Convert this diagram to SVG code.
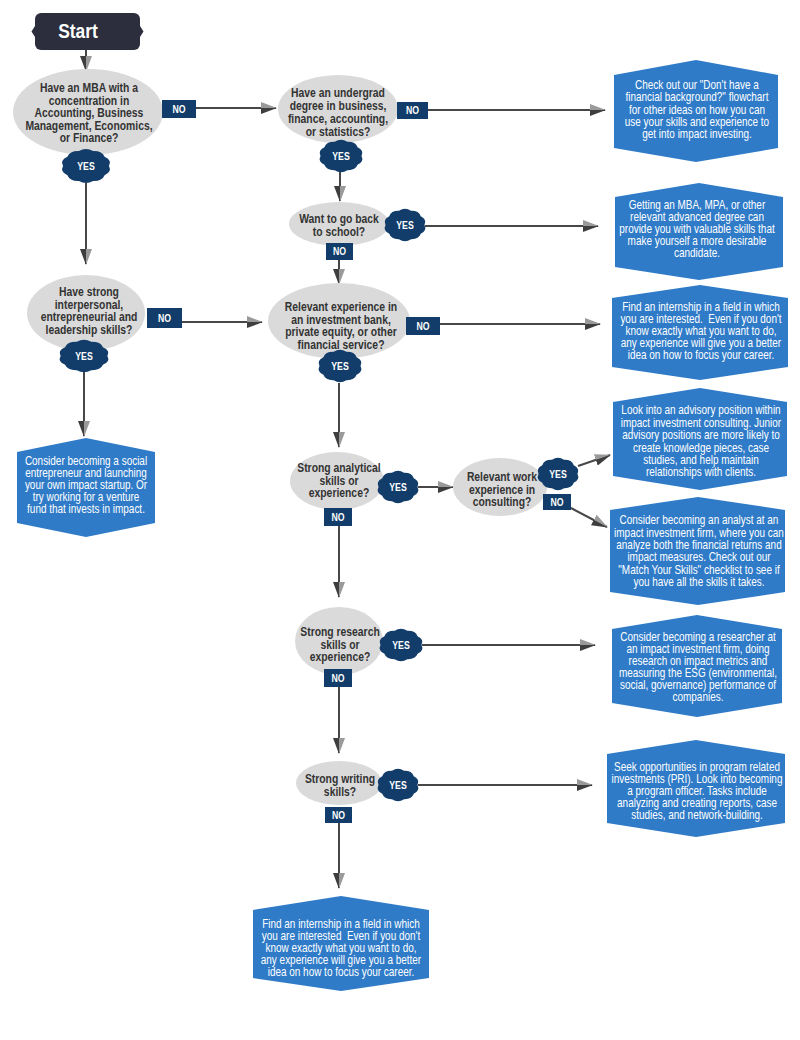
<svg xmlns="http://www.w3.org/2000/svg" xmlns:xlink="http://www.w3.org/1999/xlink" width="800" height="1040" viewBox="0 0 800 1040">
<style>
.q{fill:#dadada}
.qt{font-family:"Liberation Sans",Arial,sans-serif;font-weight:bold;font-size:12.5px;fill:#333;text-anchor:middle}
.h{fill:#2f7bc8}
.ht{font-family:"Liberation Sans",Arial,sans-serif;font-size:12px;fill:#fff;text-anchor:middle}
.nb{fill:#123d6a}
.yb{fill:#123d6a}
.bt{font-family:"Liberation Sans",Arial,sans-serif;font-weight:bold;font-size:10.5px;fill:#fff;text-anchor:middle}
.st{fill:#2c2e3d}
.stt{font-family:"Liberation Sans",Arial,sans-serif;font-weight:bold;font-size:21px;fill:#fff;text-anchor:middle}
.c{fill:none;stroke:#474747;stroke-width:2;marker-end:url(#ah)}
</style>
<defs>
<marker id="ah" markerUnits="userSpaceOnUse" markerWidth="16" markerHeight="12" viewBox="0 0 16 12" refX="15" refY="6" orient="auto">
<path d="M0,0 L16,6 L0,6 Z" fill="#9a9a9a"/>
<path d="M0,6 L16,6 L0,12 Z" fill="#3e3e3e"/>
</marker>
<path id="yes" d="M20.5,0 Q23.4,5.56 16.58,8.82 Q14.46,14.56 6.33,14.27 Q0,18 -6.33,14.27 Q-14.46,14.56 -16.58,8.82 Q-23.4,5.56 -20.5,0 Q-23.4,-5.56 -16.58,-8.82 Q-14.46,-14.56 -6.33,-14.27 Q0,-18 6.33,-14.27 Q14.46,-14.56 16.58,-8.82 Q23.4,-5.56 20.5,0 Z"/>
</defs>
<rect width="800" height="1040" fill="#fff"/>

<g id="connectors">
<path class="c" d="M86,50 V71"/>
<path class="c" d="M196,108 H276"/>
<path class="c" d="M86,183 V264"/>
<path class="c" d="M182,322 H262"/>
<path class="c" d="M84,372 V436"/>
<path class="c" d="M428,110 H605"/>
<path class="c" d="M340,172 V201"/>
<path class="c" d="M425,226 H598"/>
<path class="c" d="M339,260 V284"/>
<path class="c" d="M440,324 H600"/>
<path class="c" d="M339,383 V447"/>
<path class="c" d="M418,487 H453"/>
<path class="c" d="M578,466 L610,455"/>
<path class="c" d="M571,508 L607,527"/>
<path class="c" d="M339,526 V597"/>
<path class="c" d="M422,645 H595"/>
<path class="c" d="M339,687 V753"/>
<path class="c" d="M418,785 H592"/>
<path class="c" d="M339,822 V888"/>
</g>

<g id="start">
<rect class="st" x="35" y="13" width="105" height="37" rx="6"/>
<path class="st" d="M35,26 L31.5,31.5 L35,37 Z M140,26 L143.5,31.5 L140,37 Z"/>
<text class="stt" x="78" y="38.5" transform="matrix(0.83,0,0,1,13.26,0)">Start</text>
</g>

<g id="q-mba">
<ellipse class="q" cx="88" cy="112" rx="75" ry="43"/>
<text class="qt" transform="matrix(0.83,0,0,1,15.13,0)"><tspan x="89" y="92.5">Have an MBA with a</tspan><tspan x="89" y="105">concentration in</tspan><tspan x="89" y="117.5">Accounting, Business</tspan><tspan x="89" y="130">Management, Economics,</tspan><tspan x="89" y="142.5">or Finance?</tspan></text>
</g>
<g id="b-mba-no"><rect class="nb" x="162" y="100" width="34" height="18"/><text class="bt" x="179" y="112.7" transform="matrix(0.83,0,0,1,30.43,0)">NO</text></g>
<g id="b-mba-yes"><use xlink:href="#yes" class="yb" transform="translate(86,166) scale(1.12,1.05)"/><text class="bt" x="86" y="169.7" transform="matrix(0.83,0,0,1,14.62,0)">YES</text></g>

<g id="q-interpersonal">
<ellipse class="q" cx="86" cy="313" rx="59" ry="38"/>
<text class="qt" transform="matrix(0.83,0,0,1,15.13,0)"><tspan x="89" y="296.5">Have strong</tspan><tspan x="89" y="309">interpersonal,</tspan><tspan x="89" y="321.5">entrepreneurial and</tspan><tspan x="89" y="334">leadership skills?</tspan></text>
</g>
<g id="b-int-no"><rect class="nb" x="147" y="308" width="35" height="20"/><text class="bt" x="164.5" y="321.7" transform="matrix(0.83,0,0,1,27.965,0)">NO</text></g>
<g id="b-int-yes"><use xlink:href="#yes" class="yb" transform="translate(84,356) scale(1.14,1)"/><text class="bt" x="84" y="359.7" transform="matrix(0.83,0,0,1,14.28,0)">YES</text></g>

<g id="r-social">
<polygon class="h" points="86,438 155,452 155,523 86,537 17,523 17,452"/>
<text class="ht" transform="matrix(0.83,0,0,1,14.62,0)"><tspan x="86" y="465">Consider becoming a social</tspan><tspan x="86" y="477">entrepreneur and launching</tspan><tspan x="86" y="489">your own impact startup. Or</tspan><tspan x="86" y="501">try working for a venture</tspan><tspan x="86" y="513">fund that invests in impact.</tspan></text>
</g>

<g id="q-undergrad">
<ellipse class="q" cx="338" cy="109" rx="60" ry="34"/>
<text class="qt" transform="matrix(0.83,0,0,1,57.46,0)"><tspan x="338" y="97.5">Have an undergrad</tspan><tspan x="338" y="110.5">degree in business,</tspan><tspan x="338" y="123.5">finance, accounting,</tspan><tspan x="338" y="136.5">or statistics?</tspan></text>
</g>
<g id="b-ug-no"><rect class="nb" x="397" y="102" width="31" height="17"/><text class="bt" x="412.5" y="114.2" transform="matrix(0.83,0,0,1,70.125,0)">NO</text></g>
<g id="b-ug-yes"><use xlink:href="#yes" class="yb" transform="translate(341,156)"/><text class="bt" x="341" y="159.7" transform="matrix(0.83,0,0,1,57.97,0)">YES</text></g>

<g id="r-nofin">
<polygon class="h" points="696,60 778,75 778,148 696,162 614,148 614,75"/>
<text class="ht" transform="matrix(0.83,0,0,1,118.49,0)"><tspan x="697" y="89.3">Check out our "Don't have a</tspan><tspan x="697" y="101.5">financial background?" flowchart</tspan><tspan x="697" y="113.7">for other ideas on how you can</tspan><tspan x="697" y="125.9">use your skills and experience to</tspan><tspan x="697" y="138.1">get into impact investing.</tspan></text>
</g>

<g id="q-school">
<ellipse class="q" cx="339" cy="224" rx="50" ry="22"/>
<text class="qt" transform="matrix(0.83,0,0,1,57.63,0)"><tspan x="339" y="223.5">Want to go back</tspan><tspan x="339" y="236.5">to school?</tspan></text>
</g>
<g id="b-sch-yes"><use xlink:href="#yes" class="yb" transform="translate(405,225) scale(0.95,1)"/><text class="bt" x="405" y="228.7" transform="matrix(0.83,0,0,1,68.85,0)">YES</text></g>
<g id="b-sch-no"><rect class="nb" x="326" y="243" width="27" height="17"/><text class="bt" x="339.5" y="255.2" transform="matrix(0.83,0,0,1,57.715,0)">NO</text></g>

<g id="r-degree">
<polygon class="h" points="699,183 783,197 783,267 699,280 615,267 615,197"/>
<text class="ht" transform="matrix(0.83,0,0,1,118.49,0)"><tspan x="697" y="209.5">Getting an MBA, MPA, or other</tspan><tspan x="697" y="221.5">relevant advanced degree can</tspan><tspan x="697" y="233.5">provide you with valuable skills that</tspan><tspan x="697" y="245.5">make yourself a more desirable</tspan><tspan x="697" y="257.5">candidate.</tspan></text>
</g>

<g id="q-finexp">
<ellipse class="q" cx="339" cy="321" rx="71" ry="38"/>
<text class="qt" transform="matrix(0.83,0,0,1,57.97,0)"><tspan x="341" y="311.5">Relevant experience in</tspan><tspan x="341" y="324">an investment bank,</tspan><tspan x="341" y="336.5">private equity, or other</tspan><tspan x="341" y="349">financial service?</tspan></text>
</g>
<g id="b-fin-no"><rect class="nb" x="406" y="317" width="34" height="18"/><text class="bt" x="423" y="329.7" transform="matrix(0.83,0,0,1,71.91,0)">NO</text></g>
<g id="b-fin-yes"><use xlink:href="#yes" class="yb" transform="translate(340,366)"/><text class="bt" x="340" y="369.7" transform="matrix(0.83,0,0,1,57.8,0)">YES</text></g>

<g id="r-intern1">
<polygon class="h" points="700,285 788,298 788,367 700,380 612,367 612,298"/>
<text class="ht" transform="matrix(0.83,0,0,1,119.17,0)"><tspan x="701" y="311.5">Find an internship in a field in which</tspan><tspan x="701" y="323.5">you are interested.&#160; Even if you don't</tspan><tspan x="701" y="335.5">know exactly what you want to do,</tspan><tspan x="701" y="347.5">any experience will give you a better</tspan><tspan x="701" y="359.5">idea on how to focus your career.</tspan></text>
</g>

<g id="q-analytical">
<ellipse class="q" cx="337" cy="481" rx="47" ry="29"/>
<text class="qt" transform="matrix(0.83,0,0,1,57.63,0)"><tspan x="339" y="472.5">Strong analytical</tspan><tspan x="339" y="485">skills or</tspan><tspan x="339" y="497.5">experience?</tspan></text>
</g>
<g id="b-ana-yes"><use xlink:href="#yes" class="yb" transform="translate(398,487) scale(0.95,1)"/><text class="bt" x="398" y="490.7" transform="matrix(0.83,0,0,1,67.66,0)">YES</text></g>
<g id="b-ana-no"><rect class="nb" x="324" y="508" width="28" height="18"/><text class="bt" x="338" y="520.7" transform="matrix(0.83,0,0,1,57.46,0)">NO</text></g>

<g id="q-consulting">
<ellipse class="q" cx="500" cy="487" rx="47" ry="29"/>
<text class="qt" transform="matrix(0.83,0,0,1,85.34,0)"><tspan x="502" y="481.5">Relevant work</tspan><tspan x="502" y="494">experience in</tspan><tspan x="502" y="506.5">consulting?</tspan></text>
</g>
<g id="b-con-yes"><use xlink:href="#yes" class="yb" transform="translate(558,474) scale(0.95,1)"/><text class="bt" x="558" y="477.7" transform="matrix(0.83,0,0,1,94.86,0)">YES</text></g>
<g id="b-con-no"><rect class="nb" x="543" y="494" width="28" height="16"/><text class="bt" x="557" y="505.7" transform="matrix(0.83,0,0,1,94.69,0)">NO</text></g>

<g id="r-advisory">
<polygon class="h" points="700,388 787,402 787,476 700,490 613,476 613,402"/>
<text class="ht" transform="matrix(0.83,0,0,1,119.17,0)"><tspan x="701" y="414.5">Look into an advisory position within</tspan><tspan x="701" y="426.9">impact investment consulting. Junior</tspan><tspan x="701" y="439.3">advisory positions are more likely to</tspan><tspan x="701" y="451.7">create knowledge pieces, case</tspan><tspan x="701" y="464.1">studies, and help maintain</tspan><tspan x="701" y="476.5">relationships with clients.</tspan></text>
</g>

<g id="r-analyst">
<polygon class="h" points="698,497 785,510 785,592 698,605 610,592 610,510"/>
<text class="ht" transform="matrix(0.83,0,0,1,118.83,0)"><tspan x="699" y="524.5">Consider becoming an analyst at an</tspan><tspan x="699" y="536.8">impact investment firm, where you can</tspan><tspan x="699" y="549.1">analyze both the financial returns and</tspan><tspan x="699" y="561.4">impact measures. Check out our</tspan><tspan x="699" y="573.7">"Match Your Skills" checklist to see if</tspan><tspan x="699" y="586">you have all the skills it takes.</tspan></text>
</g>

<g id="q-research">
<ellipse class="q" cx="339" cy="641" rx="44" ry="34"/>
<text class="qt" transform="matrix(0.83,0,0,1,57.8,0)"><tspan x="340" y="636.5">Strong research</tspan><tspan x="340" y="649">skills or</tspan><tspan x="340" y="661.5">experience?</tspan></text>
</g>
<g id="b-res-yes"><use xlink:href="#yes" class="yb" transform="translate(401,645)"/><text class="bt" x="401" y="648.7" transform="matrix(0.83,0,0,1,68.17,0)">YES</text></g>
<g id="b-res-no"><rect class="nb" x="324" y="669" width="28" height="18"/><text class="bt" x="338" y="681.7" transform="matrix(0.83,0,0,1,57.46,0)">NO</text></g>

<g id="r-researcher">
<polygon class="h" points="697,615 782,629 782,703 697,717 612,703 612,629"/>
<text class="ht" transform="matrix(0.83,0,0,1,118.66,0)"><tspan x="698" y="641.5">Consider becoming a researcher at</tspan><tspan x="698" y="653.5">an impact investment firm, doing</tspan><tspan x="698" y="665.5">research on impact metrics and</tspan><tspan x="698" y="677.5">measuring the ESG (environmental,</tspan><tspan x="698" y="689.5">social, governance) performance of</tspan><tspan x="698" y="701.5">companies.</tspan></text>
</g>

<g id="q-writing">
<ellipse class="q" cx="339" cy="783" rx="43" ry="22"/>
<text class="qt" transform="matrix(0.83,0,0,1,57.8,0)"><tspan x="340" y="783.5">Strong writing</tspan><tspan x="340" y="796">skills?</tspan></text>
</g>
<g id="b-wri-yes"><use xlink:href="#yes" class="yb" transform="translate(398,785) scale(0.95,1)"/><text class="bt" x="398" y="788.7" transform="matrix(0.83,0,0,1,67.66,0)">YES</text></g>
<g id="b-wri-no"><rect class="nb" x="325" y="807" width="27" height="16"/><text class="bt" x="338.5" y="818.7" transform="matrix(0.83,0,0,1,57.545,0)">NO</text></g>

<g id="r-pri">
<polygon class="h" points="696,740 785,754 785,823 696,837 607,823 607,754"/>
<text class="ht" transform="matrix(0.83,0,0,1,118.49,0)"><tspan x="697" y="771.5">Seek opportunities in program related</tspan><tspan x="697" y="783.5">investments (PRI). Look into becoming</tspan><tspan x="697" y="795.5">a program officer. Tasks include</tspan><tspan x="697" y="807.5">analyzing and creating reports, case</tspan><tspan x="697" y="819.5">studies, and network-building.</tspan></text>
</g>

<g id="r-intern2">
<polygon class="h" points="341,896 429,910 429,978 341,991 253,978 253,910"/>
<text class="ht" transform="matrix(0.83,0,0,1,57.97,0)"><tspan x="341" y="928.5">Find an internship in a field in which</tspan><tspan x="341" y="940.5">you are interested&#160; Even if you don't</tspan><tspan x="341" y="952.5">know exactly what you want to do,</tspan><tspan x="341" y="964.5">any experience will give you a better</tspan><tspan x="341" y="976.5">idea on how to focus your career.</tspan></text>
</g>
</svg>
